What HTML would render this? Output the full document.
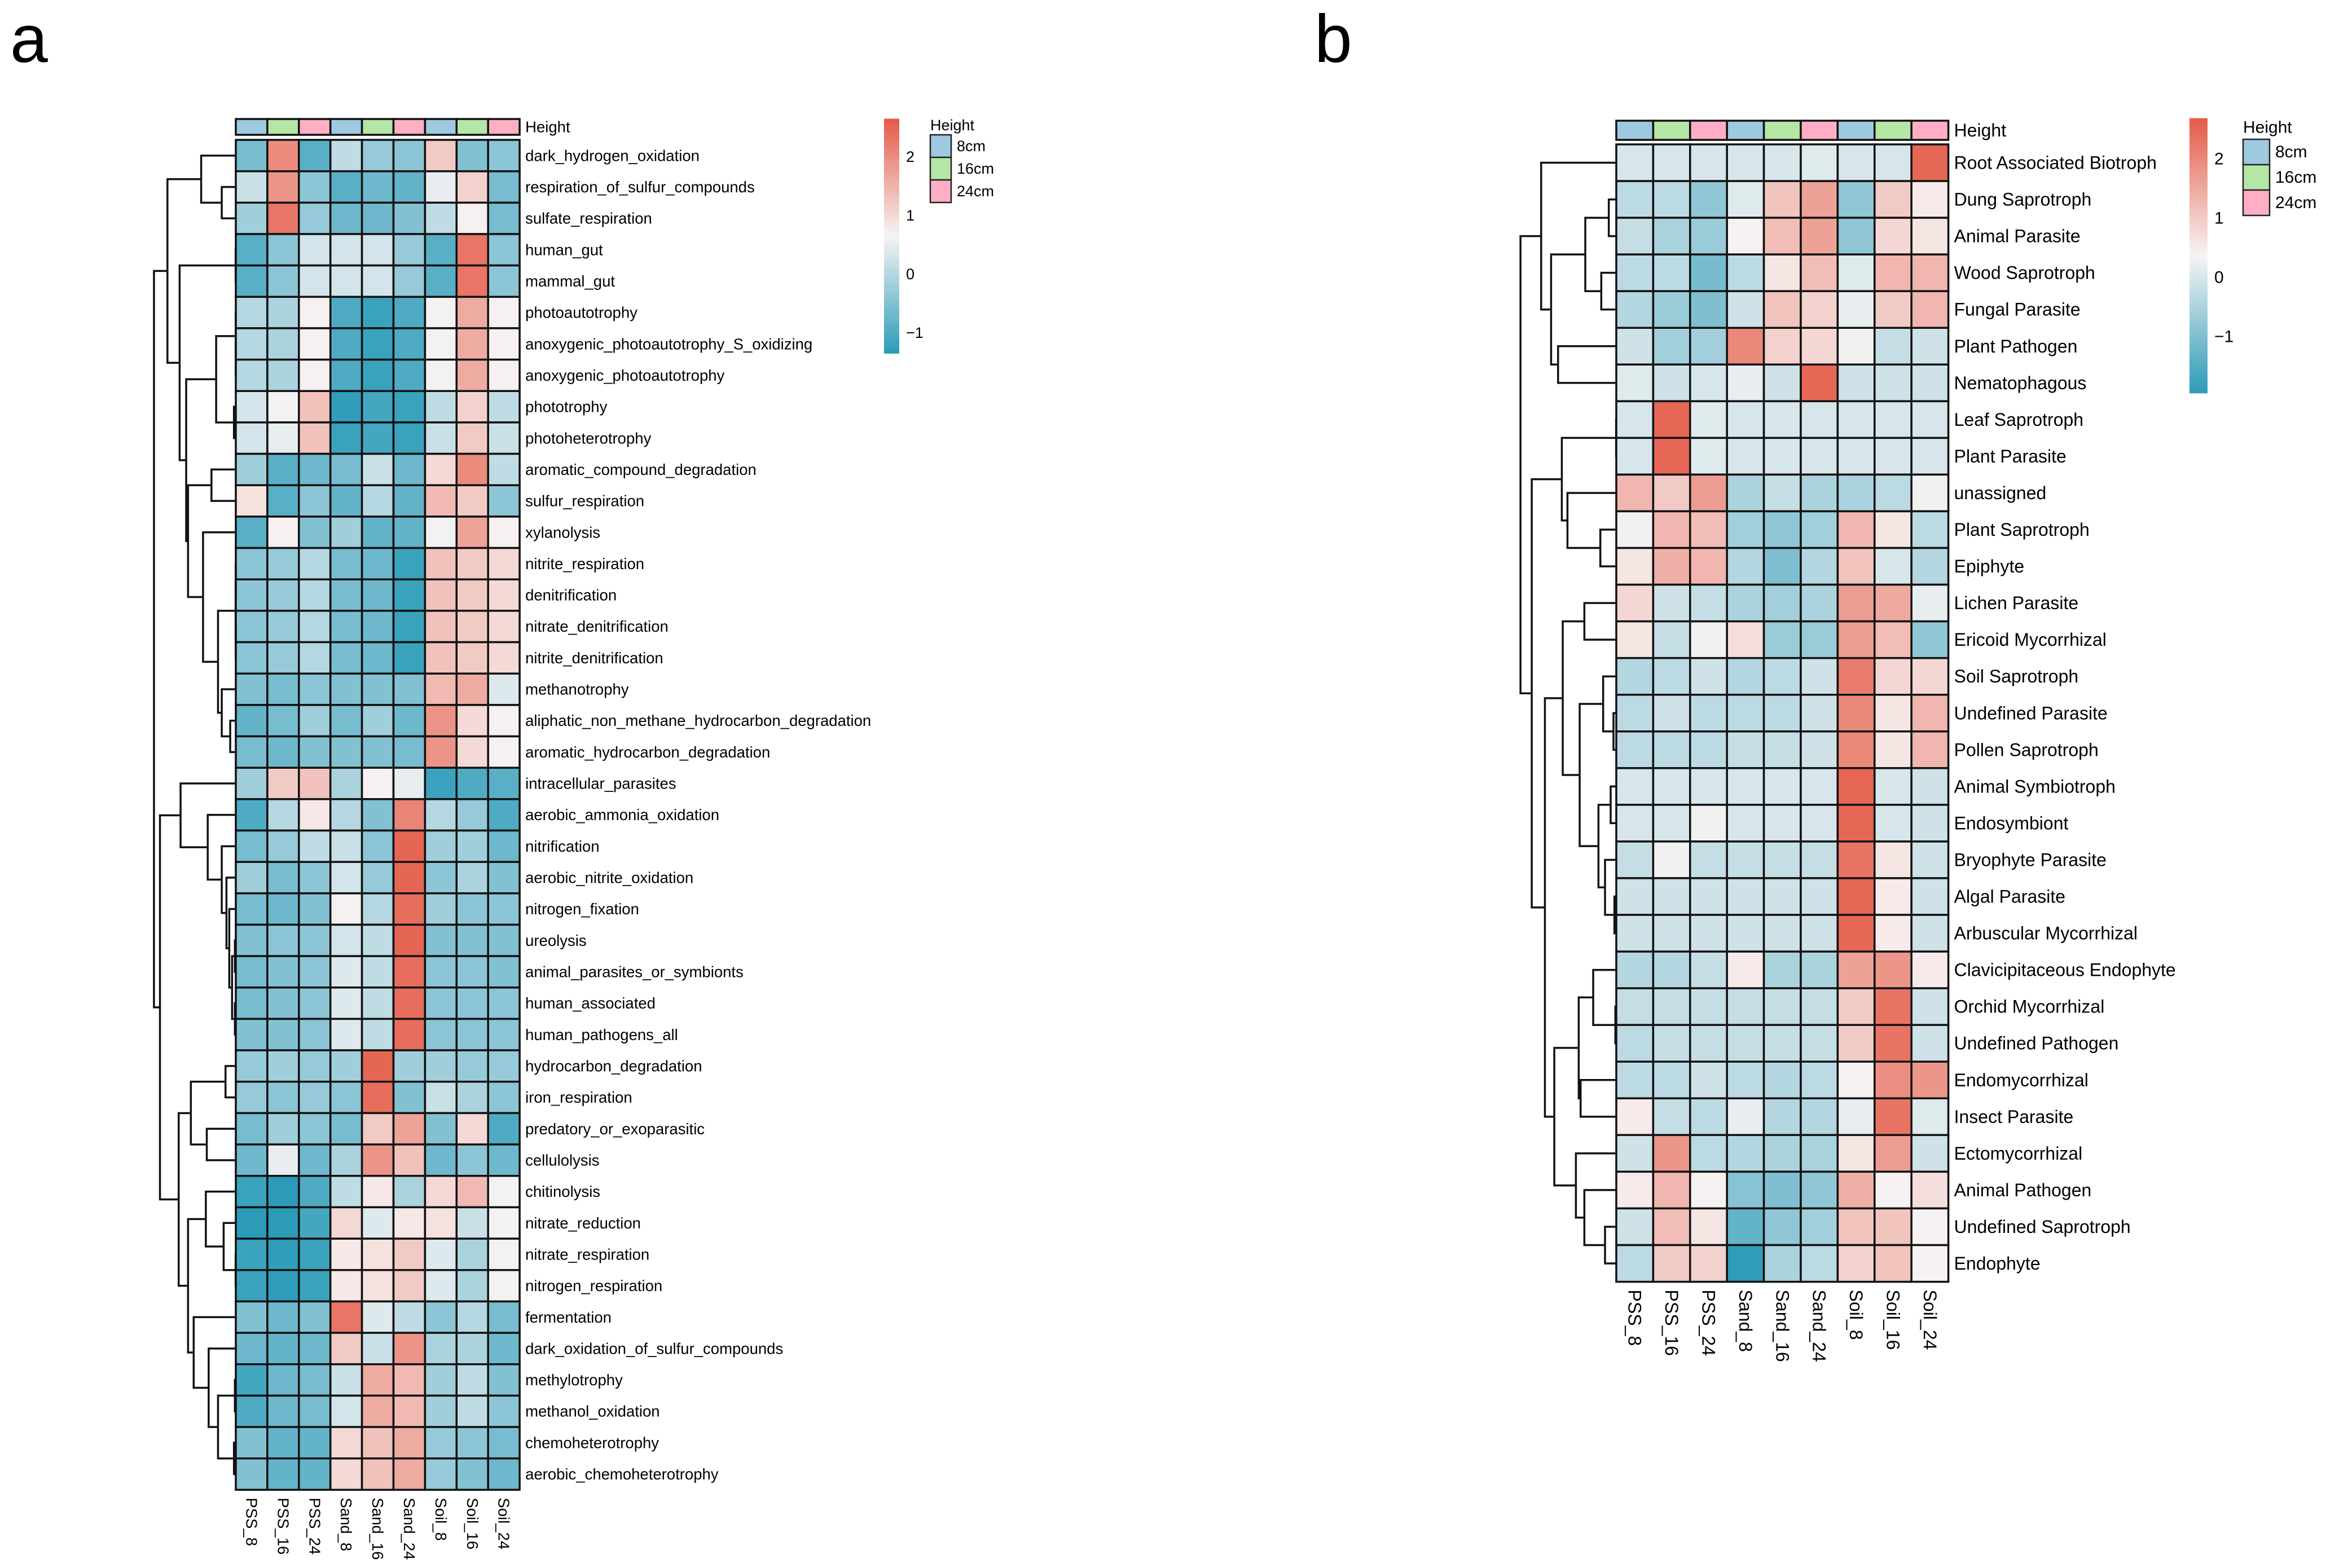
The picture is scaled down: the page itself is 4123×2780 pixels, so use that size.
<!DOCTYPE html>
<html><head><meta charset="utf-8"><style>
html,body{margin:0;padding:0;background:#fff;}
svg{display:block;font-family:"Liberation Sans",Arial,sans-serif;}
</style></head><body>
<svg id="chart" xmlns="http://www.w3.org/2000/svg" width="4123" height="2780" viewBox="0 0 4123 2780">
<rect width="4123" height="2780" fill="#fff"/>
<text x="18" y="110" font-size="120">a</text>
<text x="2330" y="110" font-size="120">b</text>
</svg>
<script>
const colLabels = ["PSS_8","PSS_16","PSS_24","Sand_8","Sand_16","Sand_24","Soil_8","Soil_16","Soil_24"];
const colHeights = ["8cm","16cm","24cm","8cm","16cm","24cm","8cm","16cm","24cm"];
const heightLevels = ["8cm","16cm","24cm"];
const heightColors = ["#9ECAE1","#B4E6A5","#FFAEC4"];

const rowsA = ["dark_hydrogen_oxidation","respiration_of_sulfur_compounds","sulfate_respiration","human_gut","mammal_gut","photoautotrophy","anoxygenic_photoautotrophy_S_oxidizing","anoxygenic_photoautotrophy","phototrophy","photoheterotrophy","aromatic_compound_degradation","sulfur_respiration","xylanolysis","nitrite_respiration","denitrification","nitrate_denitrification","nitrite_denitrification","methanotrophy","aliphatic_non_methane_hydrocarbon_degradation","aromatic_hydrocarbon_degradation","intracellular_parasites","aerobic_ammonia_oxidation","nitrification","aerobic_nitrite_oxidation","nitrogen_fixation","ureolysis","animal_parasites_or_symbionts","human_associated","human_pathogens_all","hydrocarbon_degradation","iron_respiration","predatory_or_exoparasitic","cellulolysis","chitinolysis","nitrate_reduction","nitrate_respiration","nitrogen_respiration","fermentation","dark_oxidation_of_sulfur_compounds","methylotrophy","methanol_oxidation","chemoheterotrophy","aerobic_chemoheterotrophy"];
const valuesA = [
[-0.6,2.0,-0.9,0.1,-0.3,-0.4,1.2,-0.5,-0.4],
[0.2,1.9,-0.4,-0.9,-0.7,-0.8,0.5,1.1,-0.6],
[-0.2,2.3,-0.3,-0.7,-0.7,-0.5,0.1,0.7,-0.6],
[-0.9,-0.4,0.3,0.3,0.3,-0.3,-0.9,2.3,-0.4],
[-0.9,-0.4,0.3,0.3,0.3,-0.3,-0.9,2.3,-0.4],
[0.0,-0.1,0.7,-1.0,-1.2,-1.0,0.6,1.6,0.7],
[0.0,-0.1,0.7,-1.0,-1.2,-1.0,0.6,1.6,0.7],
[0.0,-0.1,0.7,-1.0,-1.2,-1.0,0.6,1.6,0.7],
[0.3,0.6,1.3,-1.3,-1.1,-1.2,0.1,1.1,0.1],
[0.3,0.5,1.3,-1.2,-1.1,-1.2,0.2,1.2,0.2],
[-0.2,-0.9,-0.7,-0.6,0.2,-0.7,1.0,2.0,0.1],
[0.9,-0.9,-0.4,-0.8,0.0,-0.8,1.4,1.2,-0.4],
[-0.9,0.7,-0.5,-0.2,-0.8,-0.8,0.6,1.7,0.7],
[-0.4,-0.3,0.0,-0.6,-0.7,-1.2,1.3,1.2,1.0],
[-0.4,-0.3,0.0,-0.6,-0.7,-1.2,1.3,1.2,1.0],
[-0.4,-0.3,0.0,-0.6,-0.7,-1.2,1.3,1.2,1.0],
[-0.4,-0.3,0.0,-0.6,-0.7,-1.2,1.3,1.2,1.0],
[-0.5,-0.6,-0.4,-0.5,-0.5,-0.5,1.4,1.6,0.4],
[-0.8,-0.6,-0.2,-0.6,-0.2,-0.7,1.9,1.0,0.7],
[-0.6,-0.7,-0.5,-0.5,-0.5,-0.6,1.9,1.0,0.7],
[-0.2,1.2,1.3,-0.1,0.7,0.5,-1.2,-1.0,-0.9],
[-1.0,0.0,0.8,0.0,-0.5,2.1,0.0,-0.3,-1.0],
[-0.6,-0.3,0.1,0.2,-0.4,2.5,-0.2,-0.2,-0.7],
[-0.2,-0.6,-0.4,0.3,-0.3,2.5,-0.4,-0.1,-0.5],
[-0.6,-0.7,-0.5,0.7,0.0,2.4,-0.2,-0.4,-0.4],
[-0.5,-0.4,-0.4,0.3,0.1,2.5,-0.5,-0.5,-0.5],
[-0.6,-0.5,-0.4,0.4,0.1,2.4,-0.4,-0.4,-0.5],
[-0.6,-0.5,-0.4,0.4,0.1,2.4,-0.4,-0.4,-0.4],
[-0.5,-0.5,-0.4,0.4,0.1,2.4,-0.4,-0.4,-0.4],
[-0.3,-0.2,-0.3,-0.2,2.5,-0.2,-0.2,-0.3,-0.3],
[-0.3,-0.4,-0.3,-0.4,2.4,-0.5,0.2,-0.1,-0.4],
[-0.6,-0.2,-0.4,-0.6,1.2,1.7,-0.5,1.0,-1.0],
[-0.7,0.5,-0.7,-0.1,1.9,1.3,-0.7,-0.4,-0.7],
[-1.2,-1.4,-1.0,0.1,0.8,-0.1,1.0,1.4,0.6],
[-1.4,-1.4,-1.1,1.0,0.4,0.8,0.9,0.2,0.6],
[-1.2,-1.3,-1.2,0.8,0.9,1.2,0.4,-0.1,0.6],
[-1.2,-1.3,-1.2,0.8,0.9,1.2,0.4,-0.1,0.6],
[-0.5,-0.7,-0.5,2.3,0.4,0.1,-0.4,0.0,-0.6],
[-0.7,-0.8,-0.7,1.2,0.2,1.9,-0.1,-0.1,-0.7],
[-1.1,-0.7,-0.6,0.2,1.6,1.4,-0.2,0.1,-0.5],
[-1.0,-0.7,-0.6,0.3,1.6,1.4,-0.2,0.1,-0.4],
[-0.5,-0.8,-0.8,1.0,1.3,1.6,-0.3,-0.4,-0.6],
[-0.5,-0.8,-0.8,1.0,1.3,1.6,-0.3,-0.5,-0.7]];
const ticksA = [2,1,0,-1];
const treeA = [437,[365,[185,0,[75,1,2]],[300,[1,3,4],[265,[105,[0.5,5,[0.3,6,7]],[10,8,9]],[255,[130,10,11],[175,12,[95,[1,[0.5,13,14],[0.5,15,16]],[75,17,[30,18,19]]]]]]]],
 [405,[295,20,[150,21,[75,22,[50,23,[35,24,[20,[5,25,26],[5,27,28]]]]]]],[305,[240,[55,29,30],[155,31,32]],[255,[160,33,[65,34,[1,35,36]]],[225,37,[145,38,[95,[5,39,40],[10,41,42]]]]]]]];

const rowsB = ["Root Associated Biotroph","Dung Saprotroph","Animal Parasite","Wood Saprotroph","Fungal Parasite","Plant Pathogen","Nematophagous","Leaf Saprotroph","Plant Parasite","unassigned","Plant Saprotroph","Epiphyte","Lichen Parasite","Ericoid Mycorrhizal","Soil Saprotroph","Undefined Parasite","Pollen Saprotroph","Animal Symbiotroph","Endosymbiont","Bryophyte Parasite","Algal Parasite","Arbuscular Mycorrhizal","Clavicipitaceous Endophyte","Orchid Mycorrhizal","Undefined Pathogen","Endomycorrhizal","Insect Parasite","Ectomycorrhizal","Animal Pathogen","Undefined Saprotroph","Endophyte"];
const valuesB = [
[0.0,0.0,0.0,0.0,0.0,0.1,0.0,0.0,2.5],
[-0.3,-0.3,-0.8,0.1,1.1,1.6,-0.8,1.0,0.5],
[-0.2,-0.5,-0.7,0.4,1.2,1.6,-0.8,0.8,0.6],
[-0.3,-0.3,-1.1,-0.3,0.6,1.2,0.1,1.3,1.3],
[-0.4,-0.7,-1.0,-0.1,1.1,0.9,0.2,1.0,1.3],
[-0.1,-0.6,-0.6,2.0,0.9,0.8,0.3,-0.2,-0.1],
[0.1,-0.1,0.0,0.2,-0.1,2.5,-0.1,-0.1,-0.1],
[0.0,2.5,0.1,0.0,0.0,0.0,0.0,0.0,0.0],
[0.0,2.5,0.1,0.0,0.0,0.0,0.0,0.0,0.0],
[1.3,1.0,1.7,-0.5,-0.2,-0.5,-0.5,-0.3,0.3],
[0.3,1.3,1.2,-0.6,-0.8,-0.6,1.3,0.6,-0.3],
[0.6,1.4,1.3,-0.4,-1.0,-0.4,1.1,0.0,-0.4],
[0.8,-0.1,-0.2,-0.5,-0.6,-0.5,1.7,1.5,0.2],
[0.6,-0.2,0.3,0.7,-0.7,-0.7,1.7,1.2,-0.8],
[-0.4,-0.3,-0.1,-0.4,-0.3,-0.1,2.2,0.8,0.8],
[-0.3,-0.1,-0.3,-0.3,-0.3,-0.1,2.0,0.6,1.3],
[-0.3,-0.3,-0.3,-0.2,-0.2,-0.1,2.0,0.6,1.3],
[0.0,0.0,0.0,0.0,0.0,0.0,2.5,0.0,-0.1],
[0.0,0.0,0.3,0.0,0.0,0.0,2.5,0.0,-0.1],
[-0.2,0.3,-0.2,-0.2,-0.2,-0.2,2.3,0.6,-0.1],
[-0.1,-0.1,-0.1,-0.1,-0.1,-0.1,2.5,0.5,-0.1],
[-0.1,-0.1,-0.1,-0.1,-0.1,-0.1,2.5,0.5,-0.1],
[-0.4,-0.4,-0.2,0.5,-0.5,-0.5,1.6,1.8,0.5],
[-0.2,-0.2,-0.2,-0.2,-0.2,-0.2,1.0,2.3,-0.1],
[-0.3,-0.2,-0.2,-0.2,-0.2,-0.2,1.0,2.3,-0.1],
[-0.3,-0.3,-0.1,-0.3,-0.4,-0.3,0.4,1.9,1.8],
[0.5,-0.2,-0.3,0.2,-0.4,-0.4,0.2,2.3,0.1],
[-0.1,1.8,-0.3,-0.4,-0.5,-0.5,0.6,1.7,-0.1],
[0.5,1.3,0.4,-0.9,-1.0,-0.8,1.4,0.4,0.7],
[-0.1,1.2,0.6,-1.3,-0.8,-0.6,1.1,1.1,0.4],
[-0.3,1.0,0.9,-1.9,-0.5,-0.3,0.9,1.1,0.4]];
const ticksB = [2,1,0,-1];
const treeB = [510,[400,0,[347,[165,[40,1,2],[80,3,4]],[310,5,6]]],
 [450,[290,[1,7,8],[260,9,[85,10,11]]],[380,[285,[170,12,13],[195,[70,14,[15,15,16]],[95,[30,17,18],[60,19,[10,20,21]]]]],[330,[200,[123,22,[5,23,24]],[190,25,26]],[215,27,[170,28,[60,29,30]]]]]]];

const NS = "http://www.w3.org/2000/svg";
const svg = document.getElementById("chart");
function mk(tag, attrs, parent){const e=document.createElementNS(NS,tag);for(const k in attrs)e.setAttribute(k,attrs[k]);(parent||svg).appendChild(e);return e;}
function hex(c){return [parseInt(c.slice(1,3),16),parseInt(c.slice(3,5),16),parseInt(c.slice(5,7),16)];}
const LOW=hex("#2B9BB8"), MID=hex("#F7F4F4"), HIGH=hex("#E55A47");
function colorFor(v,vmin,vmax){
  const mid=(vmin+vmax)/2; let a,b,t;
  if(v<=mid){a=LOW;b=MID;t=(v-vmin)/(mid-vmin);}else{a=MID;b=HIGH;t=(v-mid)/(vmax-mid);}
  t=Math.max(0,Math.min(1,t));
  return "rgb("+a.map((x,i)=>Math.round(x+(b[i]-x)*t)).join(",")+")";
}

function panel(cfg){
  const g=mk("g",{});
  
  
  const cw=cfg.cw, rh=cfg.rh, x0=cfg.x0, y0=cfg.y0;
  const xScale=j=>x0+j*cw, yScale=i=>y0+i*rh;
  colHeights.forEach((h,j)=>{
    const r=mk("rect",{x:xScale(j),y:cfg.annY,width:cw,height:cfg.annH,fill:heightColors[heightLevels.indexOf(h)],stroke:"#111","stroke-width":3.5},g);
    
    
  });
  const ht=mk("text",{x:x0+9*cw+cfg.labGap,y:cfg.annY+cfg.annH/2,"dominant-baseline":"central","font-size":cfg.fs},g);
  ht.textContent="Height";
  
  
  cfg.values.forEach((row,i)=>{
    row.forEach((v,j)=>{
      const r=mk("rect",{x:xScale(j),y:yScale(i),width:cw,height:rh,fill:colorFor(v,cfg.vmin,cfg.vmax),stroke:"#111","stroke-width":3.5},g);
      
      
    });
    const t=mk("text",{x:x0+9*cw+cfg.labGap,y:yScale(i)+rh/2,"dominant-baseline":"central","font-size":cfg.fs},g);
    t.textContent=cfg.rows[i];
    
    
  });
  colLabels.forEach((c,j)=>{
    const cx=xScale(j)+cw/2, ty=yScale(cfg.values.length)+cfg.colGap;
    const t=mk("text",{x:cx,y:ty,transform:"rotate(90 "+cx+" "+ty+")","dominant-baseline":"central","font-size":cfg.fs},g);
    t.textContent=c;
    
    
  });
  const dg=mk("g",{stroke:"#111","stroke-width":3.5,fill:"none"},g);
  
  
  const hx=h=>x0-h*cfg.hs;
  function draw(n){
    if(typeof n==="number") return {y:yScale(n)+rh/2,h:0};
    const a=draw(n[1]), b=draw(n[2]);
    const x=hx(n[0]);
    mk("path",{d:"M"+hx(a.h)+" "+a.y+"H"+x+"V"+b.y+"H"+hx(b.h)},dg);
    return {y:(a.y+b.y)/2,h:n[0]};
  }
  draw(cfg.tree);
  const lg=mk("g",{},g);
  
  
  const L=cfg.leg, N=80, vy=v=>L.y0-(v)*L.unit;
  const top=vy(cfg.vmax), bot=vy(cfg.vmin), step=(bot-top)/N;
  for(let k=0;k<N;k++){
    const v=cfg.vmax-(k+0.5)*(cfg.vmax-cfg.vmin)/N;
    mk("rect",{x:L.x,y:top+k*step,width:L.w,height:step+0.6,fill:colorFor(v,cfg.vmin,cfg.vmax)},lg);
  }
  cfg.ticks.forEach(tv=>{
    const t=mk("text",{x:L.x+L.w+12,y:vy(tv),"dominant-baseline":"central","font-size":cfg.lfs},lg);
    t.textContent=tv<0?"\u2212"+Math.abs(tv):String(tv);
    
    
  });
  const hg=mk("g",{},g);
  
  
  const H=cfg.hleg;
  const title=mk("text",{x:H.x,y:H.ty,"dominant-baseline":"central","font-size":cfg.lfs},hg);
  title.textContent="Height";
  heightLevels.forEach((lv,k)=>{
    const r=mk("rect",{x:H.x,y:H.y0+k*H.h,width:H.w,height:H.h,fill:heightColors[k],stroke:"#222","stroke-width":2.5},hg);
    
    
    const t=mk("text",{x:H.x+H.w+10,y:H.y0+k*H.h+H.h/2,"dominant-baseline":"central","font-size":cfg.lfs},hg);
    t.textContent=lv;
    
    
  });
}

panel({name:"panel-a-heatmap",rows:rowsA,values:valuesA,tree:treeA,ticks:ticksA,
  x0:418,y0:248,cw:55.9,rh:55.66,annY:211,annH:28,labGap:10,colGap:14,fs:27.5,lfs:27,hs:0.332,
  vmin:-1.35,vmax:2.65,leg:{x:1567,w:27,y0:486,unit:104},hleg:{x:1649,ty:222,y0:239,h:40,w:37}});
panel({name:"panel-b-heatmap",rows:rowsB,values:valuesB,tree:treeB,ticks:ticksB,
  x0:2865,y0:256,cw:65.4,rh:65.05,annY:214,annH:34,labGap:10,colGap:14,fs:32,lfs:30,hs:0.333,
  vmin:-1.95,vmax:2.69,leg:{x:3881,w:32,y0:492,unit:105},hleg:{x:3976,ty:226,y0:247,h:45,w:47}});
</script>
</body></html>
